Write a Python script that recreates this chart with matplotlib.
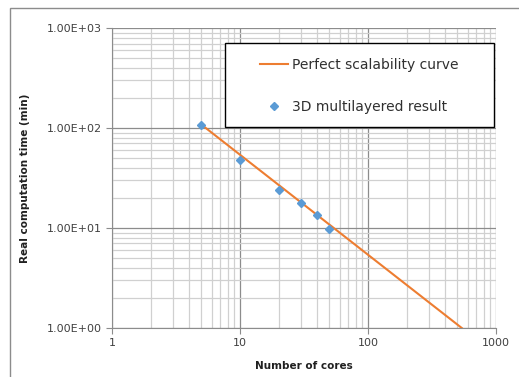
import matplotlib
matplotlib.use("Agg")
import matplotlib.pyplot as plt
from matplotlib.patches import Rectangle
from matplotlib.ticker import LogLocator, FixedLocator, FixedFormatter, NullFormatter

# perfect scalability curve (two end points of the straight line in log-log)
curve_cores = [5, 540]
curve_time = [108, 1.0]

# measured 3D multilayered results
cores = [5, 10, 20, 30, 40, 50]
times = [107, 48, 24, 17.8, 13.5, 9.8]

x_ticks = [1, 10, 100, 1000]
x_labels = ["1", "10", "100", "1000"]
y_ticks = [1, 10, 100, 1000]
y_labels = ["1.00E+00", "1.00E+01", "1.00E+02", "1.00E+03"]

plt.rcParams['font.family'] = ['DejaVu Sans']

fig = plt.figure(figsize=(5.19, 3.77), dpi=100)
ax = fig.add_axes([0.2158, 0.130, 0.7399, 0.7957])

# outer chart frame
fig.patches.append(Rectangle((10 / 519, -0.1), 1.2, 1 - 8 / 377 + 0.1,
                             transform=fig.transFigure, fill=False,
                             edgecolor='#8c8c8c', linewidth=1.0))

ax.plot(curve_cores, curve_time, color='#ed7d31', linewidth=1.5,
        label='Perfect scalability curve', zorder=3)
ax.plot(cores, times, linestyle='none', marker='D', markersize=4.5,
        color='#5b9bd5', label='3D multilayered result', zorder=4)

ax.set_xscale('log')
ax.set_yscale('log')
ax.set_xlim(1, 1000)
ax.set_ylim(1, 1000)

ax.xaxis.set_major_locator(FixedLocator(x_ticks))
ax.xaxis.set_major_formatter(FixedFormatter(x_labels))
ax.yaxis.set_major_locator(FixedLocator(y_ticks))
ax.yaxis.set_major_formatter(FixedFormatter(y_labels))
ax.xaxis.set_minor_locator(LogLocator(base=10, subs=range(2, 10)))
ax.yaxis.set_minor_locator(LogLocator(base=10, subs=range(2, 10)))
ax.xaxis.set_minor_formatter(NullFormatter())
ax.yaxis.set_minor_formatter(NullFormatter())

ax.grid(which='major', color='#8c8c8c', linewidth=0.9)
ax.grid(which='minor', color='#d0d0d0', linewidth=0.9)
ax.set_axisbelow(True)

for side in ['top', 'right']:
    ax.spines[side].set_visible(False)
for side in ['left', 'bottom']:
    ax.spines[side].set_color('#8c8c8c')

ax.tick_params(which='major', length=4, color='#8c8c8c', labelsize=8,
               labelcolor='#404040')
ax.tick_params(which='minor', length=0)

ax.set_xlabel('Number of cores', fontsize=7.5, fontweight='bold',
              color='#202020', labelpad=9)
ax.set_ylabel('Real computation time (min)', fontsize=7.5,
              fontweight='bold', color='#202020', labelpad=12)

# legend box drawn separately so the padding can match
ax.add_patch(Rectangle((0.294, 0.67), 0.701, 0.28, transform=ax.transAxes,
                       facecolor='white', edgecolor='black', linewidth=1.0,
                       zorder=5))
leg = ax.legend(loc='upper left', bbox_to_anchor=(0.385, 0.899),
                fontsize=10, frameon=False, labelspacing=2.0,
                borderpad=0, borderaxespad=0, handlelength=2.0,
                handletextpad=0.3)
leg.set_zorder(6)
for t in leg.get_texts():
    t.set_color('#303030')

fig.savefig('out.png', dpi=100)
